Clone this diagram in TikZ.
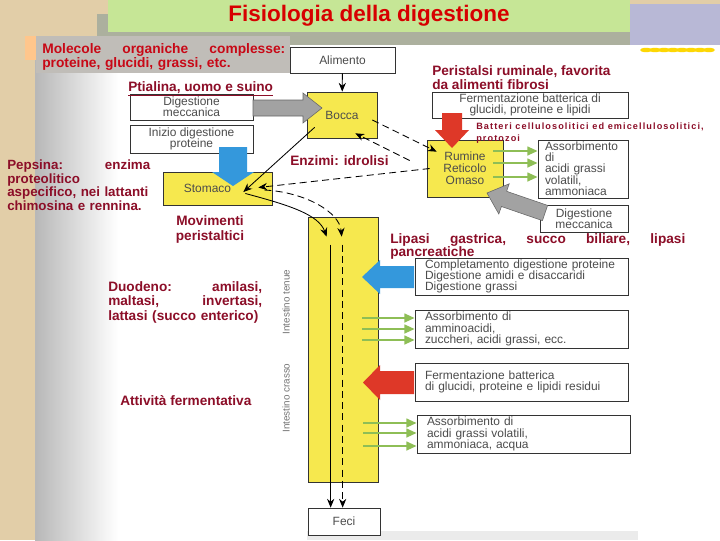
\documentclass[tikz,border=0pt]{standalone}
\usepackage{fontspec}
\setmainfont{Liberation Sans}
\newfontfamily\spacedfont[LetterSpace=12]{Liberation Sans}
\usetikzlibrary{arrows.meta,positioning,calc}

\newlength\unitpx
\setlength\unitpx{0.025cm}

\definecolor{parchment}{RGB}{226,206,168}
\definecolor{decogray}{RGB}{172,176,158}
\definecolor{decoblue}{RGB}{184,184,214}
\definecolor{titlegreen}{RGB}{198,230,150}
\definecolor{titlered}{RGB}{215,0,0}
\definecolor{molred}{RGB}{200,8,22}
\definecolor{labred}{RGB}{140,14,40}
\definecolor{panelgray}{RGB}{192,189,184}
\definecolor{organ}{RGB}{246,232,78}
\definecolor{fatblue}{RGB}{52,152,220}
\definecolor{fatred}{RGB}{222,56,40}
\definecolor{fatgray}{RGB}{162,162,162}
\definecolor{absgreen}{RGB}{142,190,86}

\tikzset{
  wh/.style 2 args={minimum width=#1\unitpx, minimum height=#2\unitpx},
  box/.style={draw=black!80, line width=0.5pt, fill=white, inner sep=1pt,
    text=black!70, font=\fontsize{8.5}{8}\selectfont, align=center},
  organbox/.style={box, fill=organ},
  leftbox/.style 2 args={box, align=left, inner xsep=#1\unitpx, text width=#2\unitpx},
  note/.style={text=labred, inner sep=0pt, anchor=north west,
    font=\bfseries\fontsize{9.7}{10}\selectfont},
  flow/.style={line width=0.6pt, -{Stealth[length=2.2mm,width=1.8mm]}},
  dflow/.style={flow, dash pattern=on 5pt off 3pt},
  absorb/.style={absgreen, line width=1.5pt, -{Triangle[length=2.6mm,width=2.2mm]}},
  organlabel/.style={text=black!55, font=\fontsize{7}{7}\selectfont, rotate=90}
}

\begin{document}
\begin{tikzpicture}[x=0.025cm, y=-0.025cm]
  \useasboundingbox (0,0) rectangle (720,540);
  % slide background
  \fill[parchment] (0,0) rectangle (720,540);
  \fill[decogray] (97,14) rectangle (630,46);
  \fill[decoblue] (630,4) rectangle (720,46);
  \fill[white] (35,45) rectangle (720,540);
  \shade[left color=black!28, right color=white] (35,45) rectangle (118,540);
  \fill[black!8] (307,531) rectangle (638,540);
  \foreach \dx in {0,9,...,63}
    \fill[yellow!75!orange] (646+\dx,50) ellipse (6 and 2.2);
  % title
  \fill[titlegreen] (108,0) rectangle (630,32);
  \node[text=titlered, font=\bfseries\fontsize{16}{16}\selectfont] (title) at (369,16) {Fisiologia della digestione};
  % box of the first label
  \fill[orange!45] (25,36) rectangle (36,60);
  \fill[panelgray] (36,36) rectangle (290,73);

  % boxes of the scheme
  \node[box, wh={105}{26}] (alimento) at (342.5,60) {Alimento};
  \node[organbox, wh={70}{46}] (bocca) at (342,115) {Bocca};
  \node[box, wh={123}{26}] (digmecc) at (191.5,107) {Digestione\\meccanica};
  \node[box, wh={123}{28}] (inizio) at (191.5,139) {Inizio digestione\\proteine};
  \node[organbox, wh={109}{33}] (stomaco) at (217.5,188.5) {Stomaco\hspace*{20\unitpx}};
  \node[box, wh={196}{26}] (fermtop) at (530,105) {Fermentazione batterica di\\glucidi, proteine e lipidi};
  \node[organbox, wh={76}{57}, font=\fontsize{8.5}{8.5}\selectfont] (rumine) at (465,168.5) {Rumine\\Reticolo\\Omaso};
  \node[leftbox={7}{76}, wh={90}{58}, font=\fontsize{8.5}{7.7}\selectfont] (assorb1) at (583,169) {Assorbimento\\di\\acidi grassi\\volatili,\\ammoniaca};
  \node[box, wh={88}{27}] (digmecc2) at (584,218.5) {Digestione\\meccanica};
  \node[organbox, wh={70}{265}] (intest) at (343,349.5) {};
  \node[box, wh={72}{27}] (feci) at (344,521.5) {Feci};
  \node[leftbox={10}{193}, wh={213}{37}] (compl) at (521.5,276.5) {Completamento digestione proteine\\Digestione amidi e disaccaridi\\Digestione grassi};
  \node[leftbox={10}{193}, wh={213}{38}] (assorb2) at (521.5,329) {Assorbimento di\\amminoacidi,\\zuccheri, acidi grassi, ecc.};
  \node[leftbox={10}{193}, wh={213}{38}] (ferm2) at (521.5,382) {Fermentazione batterica\\di glucidi, proteine e lipidi residui};
  \node[leftbox={10}{193}, wh={213}{38}] (assorb3) at (523.5,434) {Assorbimento di\\acidi grassi volatili,\\ammoniaca, acqua};
  \node[organlabel] (tenue) at (286,302) {Intestino tenue};
  \node[organlabel] (crasso) at (286,398) {Intestino crasso};

  % fat arrows
  \filldraw[fatgray, draw=black!60, line width=0.4pt] (253,100) -- (303,100) -- (303,93) -- (322,108)
    -- (303,123) -- (303,116) -- (253,116) -- cycle;
  \fill[fatblue] (219,147) -- (247,147) -- (247,172) -- (254,172) -- (233,186) -- (212,172) -- (219,172) -- cycle;
  \fill[fatred] (442,113) -- (462,113) -- (462,130) -- (469,130) -- (452,148) -- (435,130) -- (442,130) -- cycle;
  \filldraw[fatgray, draw=black!60, line width=0.4pt] (547.6,205.4) -- (506.6,191.3) -- (509.2,183.8) -- (487,193)
    -- (498.8,214) -- (501.4,206.5) -- (542.4,220.6) -- cycle;
  \fill[fatblue] (414,266) -- (380,266) -- (380,260) -- (362,277) -- (380,294) -- (380,288) -- (414,288) -- cycle;
  \fill[fatred] (414,371) -- (380,371) -- (380,365) -- (363,382.5) -- (380,400) -- (380,394) -- (414,394) -- cycle;

  % green arrows: absorption
  \foreach \yy in {151,163,177}
    \draw[absorb] (rumine.east |- 0,\yy) ++(-10,0) -- (assorb1.west |- 0,\yy);
  \foreach \yy in {318,329,340}
    \draw[absorb] (intest.east |- 0,\yy) ++(-16,0) -- (assorb2.west |- 0,\yy);
  \foreach \yy in {423,433,446}
    \draw[absorb] (intest.east |- 0,\yy) ++(-15,0) -- (assorb3.west |- 0,\yy);

  % path of the food
  \draw[flow] (alimento) -- (bocca);
  \draw[flow] ($(bocca.south west)+(8,-11)$) -- ($(stomaco.east)+(-29,3.5)$);
  \draw[dflow] ($(bocca.east)+(-5,5)$) -- ($(rumine.north west)+(10,12)$);
  \draw[dflow] ($(rumine.west)+(-17,-8)$) -- ($(bocca.south east)+(-22,-5)$);
  \draw[dflow] ($(rumine.west)+(3,0)$) -- ($(stomaco.east)+(-14,-1)$);
  \draw[flow] ($(stomaco.east)+(-27,5)$) .. controls +(45,12) and +(-8,-22) .. ($(intest.north west)+(19,20)$);
  \draw[dflow] ($(stomaco.east)+(-8,1.5)$) .. controls +(40,2) and +(-2,-25) .. ($(intest.north west)+(34,20)$);
  \draw[flow] ($(intest.north west)+(23,28)$) -- ($(feci.north west)+(23,0)$);
  \draw[dflow] ($(intest.north west)+(35,28)$) -- ($(feci.north west)+(35,0)$);

  % labels
  \node[note, text=molred, text width=243\unitpx, align=left, font=\bfseries\fontsize{9.8}{8.6}\selectfont] (molecole) at (42,43)
    {Molecole\hfill organiche\hfill complesse:\\proteine, glucidi, grassi, etc.};
  \node[note] (ptialina) at (128,81) {\underline{Ptialina, uomo e suino}};
  \node[note, align=left] (peristalsi) at (432,65) {Peristalsi ruminale, favorita\\da alimenti fibrosi};
  \node[note, align=left, font=\spacedfont\bfseries\fontsize{6.5}{8}\selectfont] (batteri) at (476,123)
    {Batteri cellulosolitici ed emicellulosolitici,\\protozoi};
  \node[note] (enzimi) at (290,155) {Enzimi: idrolisi};
  \node[note, text width=143\unitpx, align=left, font=\bfseries\fontsize{9.5}{9.5}\selectfont] (pepsina) at (7,160)
    {Pepsina:\hfill enzima\\proteolitico\\aspecifico, nei lattanti\\chimosina e rennina.};
  \node[note, anchor=north, align=center, font=\bfseries\fontsize{9.7}{10.6}\selectfont] (movimenti) at (210,215) {Movimenti\\peristaltici};
  \node[note, text width=295\unitpx, align=left, font=\bfseries\fontsize{9.7}{9.3}\selectfont] (lipasi) at (390,233)
    {Lipasi\hfill gastrica,\hfill succo\hfill biliare,\hfill lipasi\\pancreatiche};
  \node[note, text width=154\unitpx, align=left, font=\bfseries\fontsize{9.7}{10.3}\selectfont] (duodeno) at (108,281)
    {Duodeno:\hfill amilasi,\\maltasi,\hfill invertasi,\\lattasi (succo enterico)};
  \node[note] (attivita) at (120,395) {Attività fermentativa};
\end{tikzpicture}
\end{document}
